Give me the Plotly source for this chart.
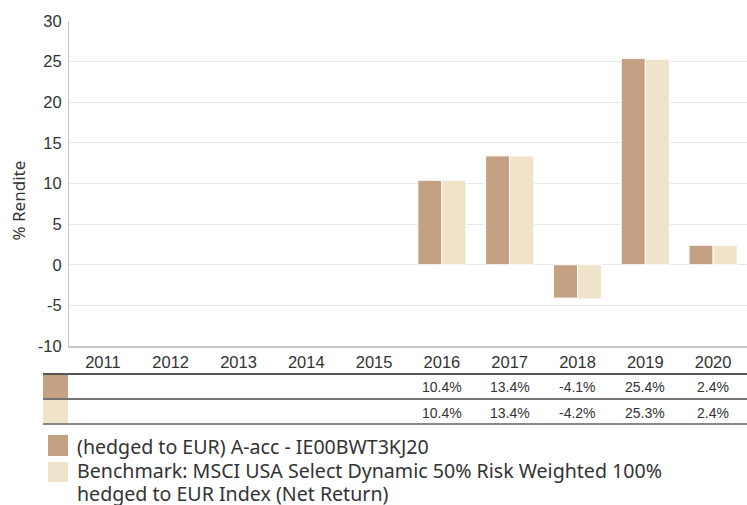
import plotly.graph_objects as go

years = ["2011", "2012", "2013", "2014", "2015", "2016", "2017", "2018", "2019", "2020"]
fund = [None, None, None, None, None, 10.4, 13.4, -4.1, 25.4, 2.4]
bench = [None, None, None, None, None, 10.4, 13.4, -4.2, 25.3, 2.4]
fund_name = "(hedged to EUR) A-acc - IE00BWT3KJ20"
bench_name_lines = ["Benchmark: MSCI USA Select Dynamic 50% Risk Weighted 100%",
                    "hedged to EUR Index (Net Return)"]
y_ticks = [-10, -5, 0, 5, 10, 15, 20, 25, 30]
y_tick_text = ["-10", "-5", "0", "5", "10", "15", "20", "25", "30"]
y_title = "% Rendite"

C_FUND = "#C4A183"
C_BENCH = "#EFE3C9"
TXT = "#333333"

W, H = 747, 505
L, T, B = 69, 21, 346  # plot area pixels
R = W

def px_x(x):
    return (x - L) / (R - L)

def px_y(y):
    return (B - y) / (B - T)

fig = go.Figure()
fig.add_bar(x=years, y=fund, name=fund_name, marker=dict(color=C_FUND, line=dict(color="white", width=1)))
fig.add_bar(x=years, y=bench, name=" ".join(bench_name_lines),
            marker=dict(color=C_BENCH, line=dict(color="white", width=1)))

shapes = []
annotations = []

# table lines
for py, col, w in [(374, "#555555", 2), (399, "#444444", 1.5), (424, "#888888", 2)]:
    shapes.append(dict(type="line", xref="paper", yref="paper", x0=px_x(43), x1=px_x(R), y0=px_y(py), y1=px_y(py),
                       line=dict(color=col, width=w)))
# table swatches
shapes.append(dict(type="rect", xref="paper", yref="paper", x0=px_x(43), x1=px_x(68), y0=px_y(375), y1=px_y(398),
                   fillcolor=C_FUND, line=dict(width=0)))
shapes.append(dict(type="rect", xref="paper", yref="paper", x0=px_x(43), x1=px_x(68), y0=px_y(400), y1=px_y(423),
                   fillcolor=C_BENCH, line=dict(width=0)))

for row_y, vals in [(387, fund), (412.5, bench)]:
    for i, (yr, v) in enumerate(zip(years, vals)):
        if v is None:
            continue
        annotations.append(dict(x=i, xref="x", y=px_y(row_y), yref="paper", text=f"{v:.1f}%", showarrow=False,
                                font=dict(family="Liberation Sans", size=14, color=TXT),
                                xanchor="center", yanchor="middle"))

# legend
shapes.append(dict(type="rect", xref="paper", yref="paper", x0=px_x(48), x1=px_x(68), y0=px_y(435), y1=px_y(456),
                   fillcolor=C_FUND, line=dict(width=0)))
shapes.append(dict(type="rect", xref="paper", yref="paper", x0=px_x(48), x1=px_x(68), y0=px_y(462), y1=px_y(482),
                   fillcolor=C_BENCH, line=dict(width=0)))
for txt, cy in [(fund_name, 446.5), (bench_name_lines[0], 470.5), (bench_name_lines[1], 493)]:
    annotations.append(dict(x=px_x(75), xref="paper", y=px_y(cy), yref="paper", text=txt, showarrow=False,
                            font=dict(family="Noto Sans", size=19.6, color=TXT), xanchor="left", yanchor="middle"))

# y-axis title
annotations.append(dict(x=px_x(17.5), xref="paper", y=px_y(201), yref="paper", text=y_title, showarrow=False,
                        textangle=-90, font=dict(family="Noto Sans", size=17, color=TXT),
                        xanchor="center", yanchor="middle"))

fig.update_layout(
    width=W, height=H,
    margin=dict(l=L, r=0, t=T, b=H - B, pad=0),
    paper_bgcolor="white", plot_bgcolor="white",
    barmode="group", bargap=0.29, bargroupgap=0.0,
    showlegend=False,
    shapes=shapes, annotations=annotations,
    xaxis=dict(type="category", categoryorder="array", categoryarray=years, range=[-0.5, 9.5],
               autorange=False, automargin=False, showgrid=False,
               showline=True, linecolor="#c8c8c8", linewidth=2, ticks="",
               tickfont=dict(family="Liberation Sans", size=16.5, color=TXT)),
    yaxis=dict(range=[-10, 30], autorange=False, automargin=False, tickvals=y_ticks, ticktext=y_tick_text,
               showgrid=True, gridcolor="#e8e8e8", gridwidth=1,
               zeroline=True, zerolinecolor="#e8e8e8", zerolinewidth=1,
               showline=True, linecolor="#c8c8c8", linewidth=1, ticks="", ticklabelstandoff=3,
               tickfont=dict(family="Liberation Sans", size=16.5, color=TXT)),
)

fig.write_html("out.html", config={"displayModeBar": False},
               post_script="document.body.style.margin='0';document.body.style.overflow='hidden';")
